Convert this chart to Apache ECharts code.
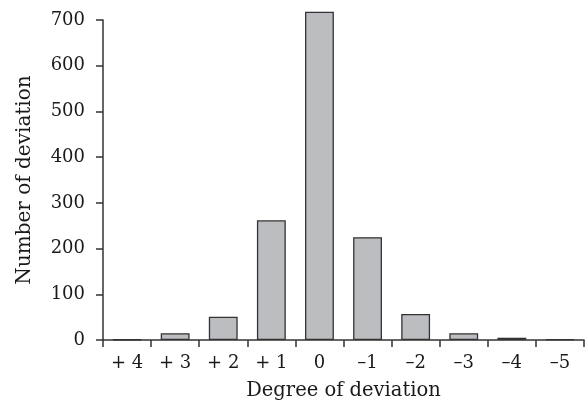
<!DOCTYPE html>
<html><head><meta charset="utf-8">
<script src="https://cdn.jsdelivr.net/npm/echarts@6/dist/echarts.min.js"></script>
<style>html,body{margin:0;padding:0;background:#fff}#c{width:586px;height:401px}</style>
</head><body><div id="c"></div>
<script>
const categories = ["+ 4", "+ 3", "+ 2", "+ 1", "0", "\u20131", "\u20132", "\u20133", "\u20134", "\u20135"];
const values = [1, 15, 51, 262, 718, 225, 57, 15, 5, 2];
const yTicks = {min: 0, max: 700, interval: 100};

const chart = echarts.init(document.getElementById('c'));
const font = 'DejaVu Serif';
chart.setOption({
  animation: false,
  grid: {left: 103, right: 2, top: 20, bottom: 61, containLabel: false, outerBoundsMode: 'none'},
  xAxis: {
    type: 'category', data: categories,
    name: 'Degree of deviation', nameLocation: 'middle', nameGap: 41,
    nameTextStyle: {fontFamily: font, fontSize: 19.5, color: '#1a1a1a'},
    axisLine: {lineStyle: {color: '#333', width: 1.5}},
    axisTick: {show: true, length: 7, lineStyle: {color: '#333', width: 1.5}, alignWithLabel: false},
    axisLabel: {fontFamily: font, fontSize: 18, color: '#1a1a1a', margin: 14}
  },
  yAxis: {
    type: 'value', min: yTicks.min, max: yTicks.max, interval: yTicks.interval,
    name: 'Number of deviation', nameLocation: 'middle', nameGap: 68,
    nameTextStyle: {fontFamily: font, fontSize: 20, color: '#1a1a1a'},
    splitLine: {show: false},
    axisLine: {show: true, lineStyle: {color: '#333', width: 1.5}},
    axisTick: {show: true, length: 7, lineStyle: {color: '#333', width: 1.5}},
    axisLabel: {fontFamily: font, fontSize: 18, color: '#1a1a1a', margin: 18}
  },
  series: [{
    type: 'bar', data: values, barWidth: '60%', clip: false,
    itemStyle: {color: '#bcbdc1', borderColor: '#333', borderWidth: 1.3}
  }]
});
</script></body></html>
